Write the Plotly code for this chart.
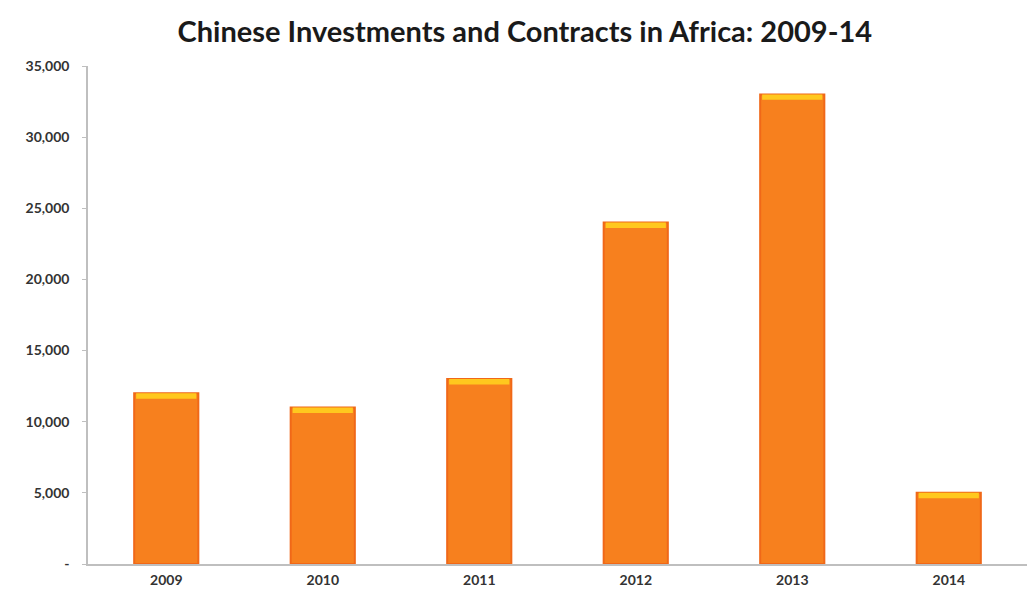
import plotly.graph_objects as go

years = ["2009", "2010", "2011", "2012", "2013", "2014"]
values = [12000, 11000, 13000, 24000, 33000, 5000]
cap = 380  # height of the yellow highlight at the bar top (style)
ytick_vals = [0, 5000, 10000, 15000, 20000, 25000, 30000, 35000]
ytick_text = ["-", "5,000", "10,000", "15,000", "20,000", "25,000", "30,000", "35,000"]

fig = go.Figure()
fig.add_trace(go.Bar(
    x=years, y=values,
    marker=dict(color="#F7801E", line=dict(color="#F06818", width=2)),
    width=0.41, hoverinfo="x+y",
))
fig.add_trace(go.Bar(
    x=years, y=[cap] * len(values), base=[v - cap for v in values],
    marker=dict(color="#FFC81E", line=dict(width=0)),
    width=0.385, hoverinfo="skip",
))
fig.update_layout(
    barmode="overlay",
    width=1027, height=593,
    margin=dict(l=88, r=0, t=66, b=29),
    paper_bgcolor="white", plot_bgcolor="white",
    showlegend=False,
    title=dict(
        text="<b>Chinese Investments and Contracts in Africa: 2009-14</b>",
        x=0.511, xanchor="center", y=0.947, yanchor="middle",
        font=dict(family="Lato, Open Sans, sans-serif", size=29, color="#1a1a1a"),
    ),
    font=dict(family="Lato, Open Sans, sans-serif"),
)
fig.update_xaxes(
    showline=True, linecolor="#BFBFBF", linewidth=1.5,
    ticks="", tickfont=dict(size=14, color="#333333", family="Lato, sans-serif", weight="bold"),
    showgrid=False, ticklabelstandoff=2,
)
fig.update_yaxes(
    range=[0, 35000], tickvals=ytick_vals, ticktext=ytick_text,
    showline=True, linecolor="#BFBFBF", linewidth=1.5,
    ticks="outside", ticklen=4, tickcolor="#BFBFBF",
    tickfont=dict(size=14, color="#333333", family="Lato, sans-serif", weight="bold"),
    showgrid=False, zeroline=False, ticklabelstandoff=10,
)
fig.write_html("out.html")
